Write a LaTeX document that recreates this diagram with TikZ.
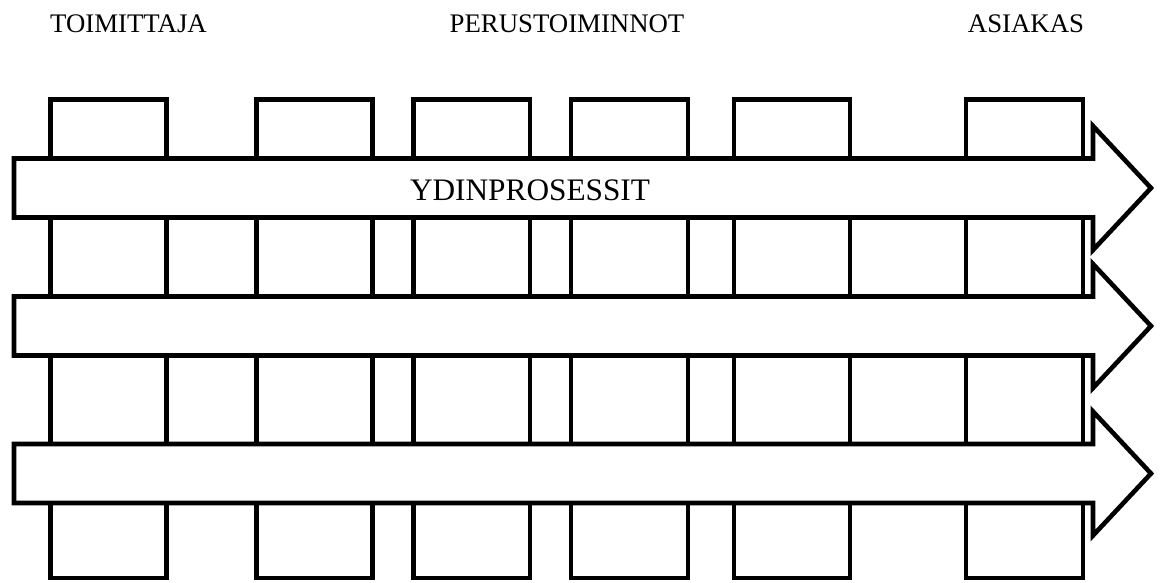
\documentclass[tikz,border=0pt]{standalone}
\usepackage{fontspec}
\setmainfont{Liberation Serif}
\begin{document}
\begin{tikzpicture}[x=1pt,y=-1pt,
  col/.style={draw=black,fill=white,line width=4.6pt,line join=miter},
  bigarrow/.style={draw=black,fill=white,line width=4.6pt,line join=miter},
  head/.style={font=\fontsize{26.8}{30}\selectfont,anchor=base,inner sep=0pt},
  mainlbl/.style={font=\fontsize{31.3}{36}\selectfont,anchor=base,inner sep=0pt}]
\useasboundingbox (0,0) rectangle (1161,582);
% columns
\foreach \l/\r/\n in {50.3/166.7/c1, 256.2/372.3/c2, 413.2/530/c3, 571/687.8/c4, 734/850/c5, 966/1083/c6}{
  \draw[col] (\l,99.5) rectangle (\r,578);
}
% arrows
\foreach \yc/\n in {188/a1, 326/a2, 473.5/a3}{
  \draw[bigarrow] (14,\yc-29.5) -- (1093,\yc-29.5) -- (1093,\yc-62) -- (1151,\yc)
     -- (1093,\yc+62) -- (1093,\yc+29.5) -- (14,\yc+29.5) -- cycle;
}
% labels
\node[head] (toim) at (128.5,32) {TOIMITTAJA};
\node[head] (perus) at (567,32) {PERUSTOIMINNOT};
\node[head] (asiakas) at (1026,32) {ASIAKAS};
\node[mainlbl] (ydin) at (530,200) {YDINPROSESSIT};
\end{tikzpicture}
\end{document}
